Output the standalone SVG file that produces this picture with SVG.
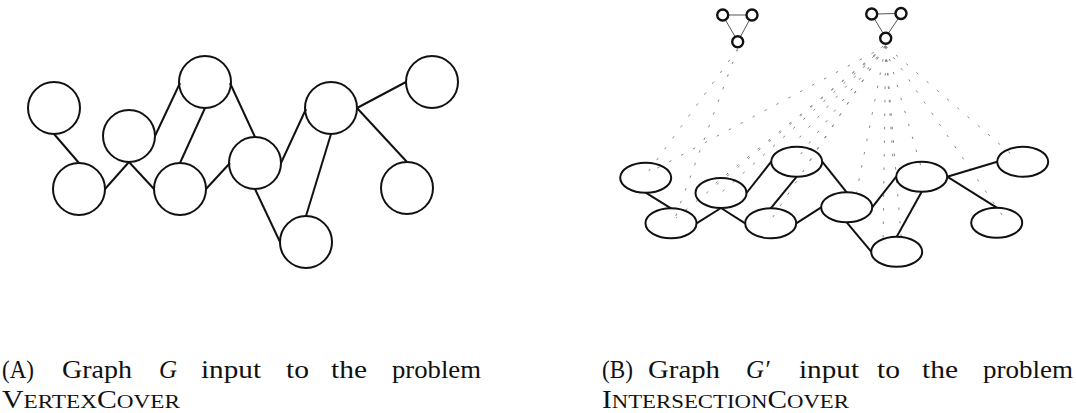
<svg xmlns="http://www.w3.org/2000/svg" width="1076" height="413" viewBox="0 0 1076 413">
<style>
.n{fill:none;stroke:#111;stroke-width:2}
.e{stroke:#111;stroke-width:2;fill:none}
.t{fill:#fff;stroke:#111;stroke-width:2.4}
.te{stroke:#555;stroke-width:1}
.d{stroke:#888;stroke-width:1;stroke-dasharray:2.5 11;fill:none}
.cap{font-family:"Liberation Serif","Times New Roman",serif;font-size:25px;fill:#111}
.it{font-style:italic}
</style>
<rect width="1076" height="413" fill="#fff"/>
<g id="connectors">
<g id="left-edges">
<line class="e" x1="54" y1="134" x2="79" y2="163"/>
<line class="e" x1="105" y1="189" x2="129" y2="162"/>
<line class="e" x1="129" y1="162" x2="154" y2="189"/>
<line class="e" x1="155" y1="136" x2="180" y2="83"/>
<line class="e" x1="205" y1="108" x2="180" y2="163"/>
<line class="e" x1="230" y1="83" x2="255" y2="137"/>
<line class="e" x1="206" y1="189" x2="230" y2="163"/>
<line class="e" x1="255" y1="189" x2="280" y2="242"/>
<line class="e" x1="281" y1="163" x2="306" y2="109"/>
<line class="e" x1="331" y1="134" x2="306" y2="216"/>
<line class="e" x1="357" y1="108" x2="406" y2="82"/>
<line class="e" x1="357" y1="108" x2="407" y2="162"/>
</g>
<g id="right-dashed">
<line class="d" x1="737.7" y1="49" x2="648" y2="172"/>
<line class="d" x1="737.7" y1="49" x2="675" y2="218"/>
<line class="d" x1="885.7" y1="46" x2="650" y2="172"/>
<line class="d" x1="885.7" y1="46" x2="676" y2="218"/>
<line class="d" x1="885.7" y1="46" x2="721" y2="193"/>
<line class="d" x1="885.7" y1="46" x2="712" y2="186"/>
<line class="d" x1="885.7" y1="46" x2="796" y2="160"/>
<line class="d" x1="885.7" y1="46" x2="806" y2="166"/>
<line class="d" x1="883" y1="46" x2="788" y2="150"/>
<line class="d" x1="885.7" y1="46" x2="771" y2="220"/>
<line class="d" x1="885.7" y1="46" x2="855" y2="200"/>
<line class="d" x1="885.7" y1="46" x2="922" y2="170"/>
<line class="d" x1="885.7" y1="46" x2="893" y2="160"/>
<line class="d" x1="885.7" y1="46" x2="1018" y2="160"/>
<line class="d" x1="885.7" y1="46" x2="1004" y2="218"/>
<line class="d" x1="885.7" y1="46" x2="883" y2="245"/>
<line class="d" x1="885.7" y1="46" x2="902" y2="247"/>
</g>
<g id="right-edges">
<line class="e" x1="645.7" y1="192.7" x2="671" y2="208.3"/>
<line class="e" x1="696.5" y1="223.3" x2="721" y2="208"/>
<line class="e" x1="721" y1="208" x2="745.2" y2="223.3"/>
<line class="e" x1="746.5" y1="193" x2="771.2" y2="161.7"/>
<line class="e" x1="796.7" y1="176.7" x2="770.7" y2="208.3"/>
<line class="e" x1="822.2" y1="161.7" x2="846.7" y2="192.3"/>
<line class="e" x1="796.2" y1="223.3" x2="821.2" y2="207.3"/>
<line class="e" x1="846.7" y1="222.3" x2="871.2" y2="251.7"/>
<line class="e" x1="872.2" y1="207.3" x2="896.2" y2="176.7"/>
<line class="e" x1="921.7" y1="191.7" x2="896.7" y2="236.7"/>
<line class="e" x1="947.2" y1="176.7" x2="997.2" y2="161.7"/>
<line class="e" x1="947.2" y1="176.7" x2="996.7" y2="207.7"/>
</g>
<g id="triangle-edges">
<line class="te" x1="728" y1="15" x2="747" y2="15"/>
<line class="te" x1="725.5" y1="20" x2="735" y2="36.5"/>
<line class="te" x1="749.5" y1="20" x2="740.5" y2="36.5"/>
<line class="te" x1="877" y1="14" x2="895.7" y2="13.5"/>
<line class="te" x1="874.5" y1="19" x2="883" y2="33"/>
<line class="te" x1="898.3" y1="18.5" x2="888.5" y2="33"/>
</g>
</g>
<g id="left-nodes">
<circle id="a1" class="n" cx="54" cy="108" r="26"/>
<circle id="a2" class="n" cx="79" cy="189" r="26"/>
<circle id="a3" class="n" cx="129" cy="136" r="26"/>
<circle id="a4" class="n" cx="205" cy="82" r="26"/>
<circle id="a5" class="n" cx="180" cy="189" r="26"/>
<circle id="a6" class="n" cx="255" cy="163" r="26"/>
<circle id="a7" class="n" cx="331" cy="108" r="26"/>
<circle id="a8" class="n" cx="432" cy="82" r="26"/>
<circle id="a9" class="n" cx="407" cy="188" r="26"/>
<circle id="a10" class="n" cx="306" cy="242" r="26"/>
</g>
<g id="right-nodes">
<ellipse id="b1" class="n" cx="645.7" cy="177.7" rx="25.5" ry="15"/>
<ellipse id="b2" class="n" cx="671" cy="223.3" rx="25.5" ry="15"/>
<ellipse id="b3" class="n" cx="721" cy="193" rx="25.5" ry="15"/>
<ellipse id="b4" class="n" cx="796.7" cy="161.7" rx="25.5" ry="15"/>
<ellipse id="b5" class="n" cx="770.7" cy="223.3" rx="25.5" ry="15"/>
<ellipse id="b6" class="n" cx="846.7" cy="207.3" rx="25.5" ry="15"/>
<ellipse id="b7" class="n" cx="921.7" cy="176.7" rx="25.5" ry="15"/>
<ellipse id="b8" class="n" cx="1022.7" cy="161.7" rx="25.5" ry="15"/>
<ellipse id="b9" class="n" cx="996.7" cy="222.7" rx="25.5" ry="15"/>
<ellipse id="b10" class="n" cx="896.7" cy="251.7" rx="25.5" ry="15"/>
</g>
<g id="triangle1">
<circle class="t" cx="722.7" cy="15" r="5.5"/>
<circle class="t" cx="752" cy="15" r="5.5"/>
<circle class="t" cx="737.7" cy="41.7" r="5.5"/>
</g>
<g id="triangle2">
<circle class="t" cx="871.7" cy="14" r="5.5"/>
<circle class="t" cx="901" cy="13.5" r="5.5"/>
<circle class="t" cx="885.7" cy="38.3" r="5.5"/>
</g>
<g id="caption-a" class="cap">
<text x="2" y="378" textLength="32" lengthAdjust="spacingAndGlyphs">(A)</text>
<text x="62" y="378" textLength="70" lengthAdjust="spacingAndGlyphs">Graph</text>
<text x="159" y="378" class="it">G</text>
<text x="201" y="378" textLength="60" lengthAdjust="spacingAndGlyphs">input</text>
<text x="286" y="378" textLength="23" lengthAdjust="spacingAndGlyphs">to</text>
<text x="331" y="378" textLength="36" lengthAdjust="spacingAndGlyphs">the</text>
<text x="392" y="378" textLength="89" lengthAdjust="spacingAndGlyphs">problem</text>
<text x="2" y="408" textLength="178" lengthAdjust="spacingAndGlyphs">V<tspan font-size="19.5">ERTEX</tspan>C<tspan font-size="19.5">OVER</tspan></text>
</g>
<g id="caption-b" class="cap">
<text x="602" y="378" textLength="31" lengthAdjust="spacingAndGlyphs">(B)</text>
<text x="648" y="378" textLength="72" lengthAdjust="spacingAndGlyphs">Graph</text>
<text x="746" y="378" class="it">G′</text>
<text x="799" y="378" textLength="60" lengthAdjust="spacingAndGlyphs">input</text>
<text x="877" y="378" textLength="23" lengthAdjust="spacingAndGlyphs">to</text>
<text x="922" y="378" textLength="36" lengthAdjust="spacingAndGlyphs">the</text>
<text x="983" y="378" textLength="90" lengthAdjust="spacingAndGlyphs">problem</text>
<text x="602" y="408" textLength="247" lengthAdjust="spacingAndGlyphs">I<tspan font-size="19.5">NTERSECTION</tspan>C<tspan font-size="19.5">OVER</tspan></text>
</g>
</svg>
